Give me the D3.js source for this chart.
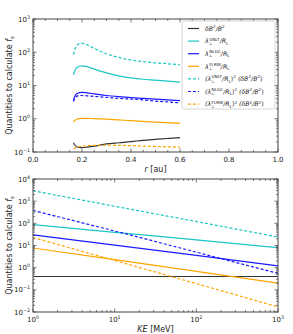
<!DOCTYPE html>
<html>
<head>
<meta charset="utf-8">
<script src="https://cdn.jsdelivr.net/npm/d3@7"></script>
<style>
  body { margin: 0; background: #fff; }
  svg { display: block; font-family: "DejaVu Sans", sans-serif; }
</style>
</head>
<body>
<svg id="chart" width="293" height="334"></svg>
<script>
// ── Top panel: quantities vs heliocentric distance r [au] ──
const rVals = [0.165, 0.17, 0.175, 0.18, 0.19, 0.2, 0.22, 0.25, 0.3, 0.35, 0.4, 0.45, 0.5, 0.55, 0.6];
const dB2 = [0.19, 0.165, 0.15, 0.142, 0.137, 0.136, 0.14, 0.15, 0.175, 0.19, 0.205, 0.225, 0.24, 0.255, 0.27];
const unltR = [21, 27, 32, 35, 38, 39, 37, 31, 24, 19.5, 17, 15.4, 14.5, 13.5, 12.7];
const nlgcR = [3.6, 4.6, 5.3, 5.7, 6.1, 6.2, 6.0, 5.6, 5.0, 4.6, 4.3, 4.1, 3.9, 3.7, 3.5];
const flrwR = [0.80, 0.88, 0.94, 0.98, 1.01, 1.03, 1.03, 1.01, 0.97, 0.92, 0.88, 0.83, 0.79, 0.76, 0.73];
const unltR2 = [85, 115, 145, 165, 183, 186, 170, 130, 90, 70, 58, 52, 48, 45, 42];
const nlgcR2 = [3.3, 4.0, 4.5, 4.8, 5.0, 5.0, 4.9, 4.7, 4.4, 4.1, 3.9, 3.7, 3.4, 3.2, 3.0];
const flrwR2 = [0.125, 0.13, 0.135, 0.14, 0.145, 0.15, 0.155, 0.158, 0.16, 0.158, 0.155, 0.15, 0.147, 0.143, 0.14];

// ── Bottom panel: quantities vs kinetic energy KE [MeV] ──
const keVals = [1, 10, 100, 1000];
const dB2KE = [0.4, 0.4, 0.4, 0.4];
const unltKE = [87, 39, 18, 8];
const nlgcKE = [30, 10.5, 3.6, 1.2];
const flrwKE = [7.7, 2.3, 0.68, 0.2];
const unltKE2 = [2950, 590, 120, 24];
const nlgcKE2 = [380, 45, 5, 0.55];
const flrwKE2 = [23, 2.1, 0.19, 0.017];

const rTicks = [0, 0.2, 0.4, 0.6, 0.8, 1.0];

const C_CYAN = "#1cc6c6", C_BLUE = "#1a1aff", C_ORANGE = "#ffa500", C_BLACK = "#333";
const DASH = "3,2";

const svg = d3.select("#chart");

// ── rich text helper (super/subscripts) ──
function rich(sel, parts, size) {
  const small = size * 0.68;
  let level = 0;
  parts.forEach(p => {
    const [txt, kind, dx] = p;
    const target = kind === "sup" ? -size * 0.42 : kind === "sub" ? size * 0.25 : 0;
    const ts = sel.append("tspan").text(txt)
      .attr("dy", target - level)
      .attr("font-size", kind === "sup" || kind === "sub" ? small : size);
    if (dx) ts.attr("dx", dx);
    if (p[3]) ts.attr("font-style", "italic");
    level = target;
  });
}

function logTicks(lo, hi) {
  const major = [], minor = [];
  for (let e = Math.round(Math.log10(lo)); e <= Math.round(Math.log10(hi)); e++) {
    major.push(Math.pow(10, e));
    if (e < Math.round(Math.log10(hi)))
      for (let k = 2; k <= 9; k++) minor.push(k * Math.pow(10, e));
  }
  return { major, minor };
}

function frame(g, x, y, w, h) {
  g.append("rect").attr("x", x).attr("y", y).attr("width", w).attr("height", h)
    .attr("fill", "none").attr("stroke", "#444").attr("stroke-width", 1);
}

function drawPanel(opt) {
  const { top, xScale, yScale, series, xMajor, xMinor, xFmt, yLo, yHi, xLabel } = opt;
  const g = svg.append("g");
  const [x0, x1] = xScale.range();
  const [y1, y0] = yScale.range();

  const clipId = "clip" + top;
  svg.append("clipPath").attr("id", clipId)
    .append("rect").attr("x", x0).attr("y", y0).attr("width", x1 - x0).attr("height", y1 - y0);

  // series lines
  const lines = g.append("g").attr("clip-path", `url(#${clipId})`);
  series.forEach(s => {
    const line = d3.line()
      .x((d, i) => xScale(s.x[i]))
      .y(d => yScale(d))
      .curve(d3.curveMonotoneX);
    lines.append("path")
      .attr("d", line(s.y))
      .attr("fill", "none")
      .attr("stroke", s.color)
      .attr("stroke-width", 1.2)
      .attr("stroke-dasharray", s.dash ? DASH : null);
  });

  frame(g, x0, y0, x1 - x0, y1 - y0);

  // y ticks (log), inward on both sides
  const yt = logTicks(yLo, yHi);
  const tk = g.append("g").attr("stroke", "#444").attr("stroke-width", 0.7);
  yt.major.forEach(v => {
    const yy = yScale(v);
    tk.append("line").attr("x1", x0).attr("x2", x0 + 3.5).attr("y1", yy).attr("y2", yy);
    tk.append("line").attr("x1", x1).attr("x2", x1 - 3.5).attr("y1", yy).attr("y2", yy);
    const t = g.append("text").attr("x", x0 - 3).attr("y", yy + 2.5)
      .attr("text-anchor", "end").attr("fill", "#222");
    rich(t, [["10", "n"], [String(Math.round(Math.log10(v))).replace("-", "\u2212"), "sup"]], 7);
  });
  yt.minor.forEach(v => {
    const yy = yScale(v);
    tk.append("line").attr("x1", x0).attr("x2", x0 + 2).attr("y1", yy).attr("y2", yy);
    tk.append("line").attr("x1", x1).attr("x2", x1 - 2).attr("y1", yy).attr("y2", yy);
  });

  // x ticks
  xMajor.forEach(v => {
    const xx = xScale(v);
    tk.append("line").attr("x1", xx).attr("x2", xx).attr("y1", y1).attr("y2", y1 - 3.5);
    tk.append("line").attr("x1", xx).attr("x2", xx).attr("y1", y0).attr("y2", y0 + 3.5);
    const t = g.append("text").attr("x", xx).attr("y", y1 + 9.5)
      .attr("text-anchor", "middle").attr("fill", "#222");
    xFmt(t, v);
  });
  xMinor.forEach(v => {
    const xx = xScale(v);
    tk.append("line").attr("x1", xx).attr("x2", xx).attr("y1", y1).attr("y2", y1 - 2);
    tk.append("line").attr("x1", xx).attr("x2", xx).attr("y1", y0).attr("y2", y0 + 2);
  });

  // axis labels
  const xl = g.append("text").attr("x", (x0 + x1) / 2).attr("y", y1 + 20)
    .attr("text-anchor", "middle").attr("fill", "#222");
  rich(xl, xLabel, 8);

  const yl = g.append("text")
    .attr("transform", `translate(12,${(y0 + y1) / 2}) rotate(-90)`)
    .attr("text-anchor", "middle").attr("fill", "#222");
  rich(yl, [["Quantities to calculate ", "n"], ["f", "n", null, true], ["s", "sub"]], 8);
}

// ── Top panel ──
const xTop = d3.scaleLinear().domain([0, 1]).range([33, 278]);
const yTop = d3.scaleLog().domain([1e-1, 1e3]).range([152, 19]);

drawPanel({
  top: 1,
  xScale: xTop, yScale: yTop, yLo: 1e-1, yHi: 1e3,
  xMajor: rTicks,
  xMinor: d3.range(0, 1.001, 0.05).filter(v => !rTicks.some(t => Math.abs(t - v) < 1e-6)),
  xFmt: (t, v) => t.attr("font-size", 7).text(v.toFixed(1)),
  xLabel: [["r", "n", null, true], [" [au]", "n"]],
  series: [
    { x: rVals, y: dB2, color: C_BLACK },
    { x: rVals, y: unltR, color: C_CYAN },
    { x: rVals, y: nlgcR, color: C_BLUE },
    { x: rVals, y: flrwR, color: C_ORANGE },
    { x: rVals, y: unltR2, color: C_CYAN, dash: true },
    { x: rVals, y: nlgcR2, color: C_BLUE, dash: true },
    { x: rVals, y: flrwR2, color: C_ORANGE, dash: true }
  ]
});

// ── Bottom panel ──
const xBot = d3.scaleLog().domain([1, 1000]).range([33, 278]);
const yBot = d3.scaleLog().domain([1e-2, 1e4]).range([312, 179]);
const keTicks = logTicks(1, 1000);

drawPanel({
  top: 2,
  xScale: xBot, yScale: yBot, yLo: 1e-2, yHi: 1e4,
  xMajor: keTicks.major,
  xMinor: keTicks.minor,
  xFmt: (t, v) => rich(t, [["10", "n"], [String(Math.round(Math.log10(v))), "sup"]], 7),
  xLabel: [["KE", "n", null, true], [" [MeV]", "n"]],
  series: [
    { x: keVals, y: dB2KE, color: C_BLACK },
    { x: keVals, y: unltKE, color: C_CYAN },
    { x: keVals, y: nlgcKE, color: C_BLUE },
    { x: keVals, y: flrwKE, color: C_ORANGE },
    { x: keVals, y: unltKE2, color: C_CYAN, dash: true },
    { x: keVals, y: nlgcKE2, color: C_BLUE, dash: true },
    { x: keVals, y: flrwKE2, color: C_ORANGE, dash: true }
  ]
});

// ── Legend (top panel) ──
const lam = (name) => [["\u03bb", "n", null, true], ["\u22a5", "sub"], [name, "sup", -3.2], ["/R", "n", null, true], ["L", "sub"]];
const dbPart = [["(\u03b4B", "n", null, true], ["2", "sup"], ["/B", "n", null, true], ["2", "sup"], [")", "n"]];
const lam2 = (name) => [["(\u03bb", "n", null, true], ["\u22a5", "sub"], [name, "sup", -3.2], ["/R", "n", null, true], ["L", "sub"], [")", "n"], ["2", "sup"], [" ", "n"]].concat(dbPart);

const legendItems = [
  { color: C_BLACK, dash: false, parts: [["\u03b4B", "n", null, true], ["2", "sup"], ["/B", "n", null, true], ["2", "sup"]] },
  { color: C_CYAN, dash: false, parts: lam("UNLT") },
  { color: C_BLUE, dash: false, parts: lam("NLGC") },
  { color: C_ORANGE, dash: false, parts: lam("FLRW") },
  { color: C_CYAN, dash: true, parts: lam2("UNLT") },
  { color: C_BLUE, dash: true, parts: lam2("NLGC") },
  { color: C_ORANGE, dash: true, parts: lam2("FLRW") }
];

const leg = svg.append("g");
leg.append("rect").attr("x", 182).attr("y", 21).attr("width", 93).attr("height", 88)
  .attr("rx", 1.5).attr("fill", "#fff").attr("fill-opacity", 0.85)
  .attr("stroke", "#ccc").attr("stroke-width", 0.8);

legendItems.forEach((it, i) => {
  const yy = 28.5 + i * 12.6;
  leg.append("line").attr("x1", 188).attr("x2", 199).attr("y1", yy).attr("y2", yy)
    .attr("stroke", it.color).attr("stroke-width", 1.2)
    .attr("stroke-dasharray", it.dash ? DASH : null);
  const t = leg.append("text").attr("x", 205).attr("y", yy + 2.2).attr("fill", "#222");
  rich(t, it.parts, 6.2);
});
</script>
</body>
</html>
